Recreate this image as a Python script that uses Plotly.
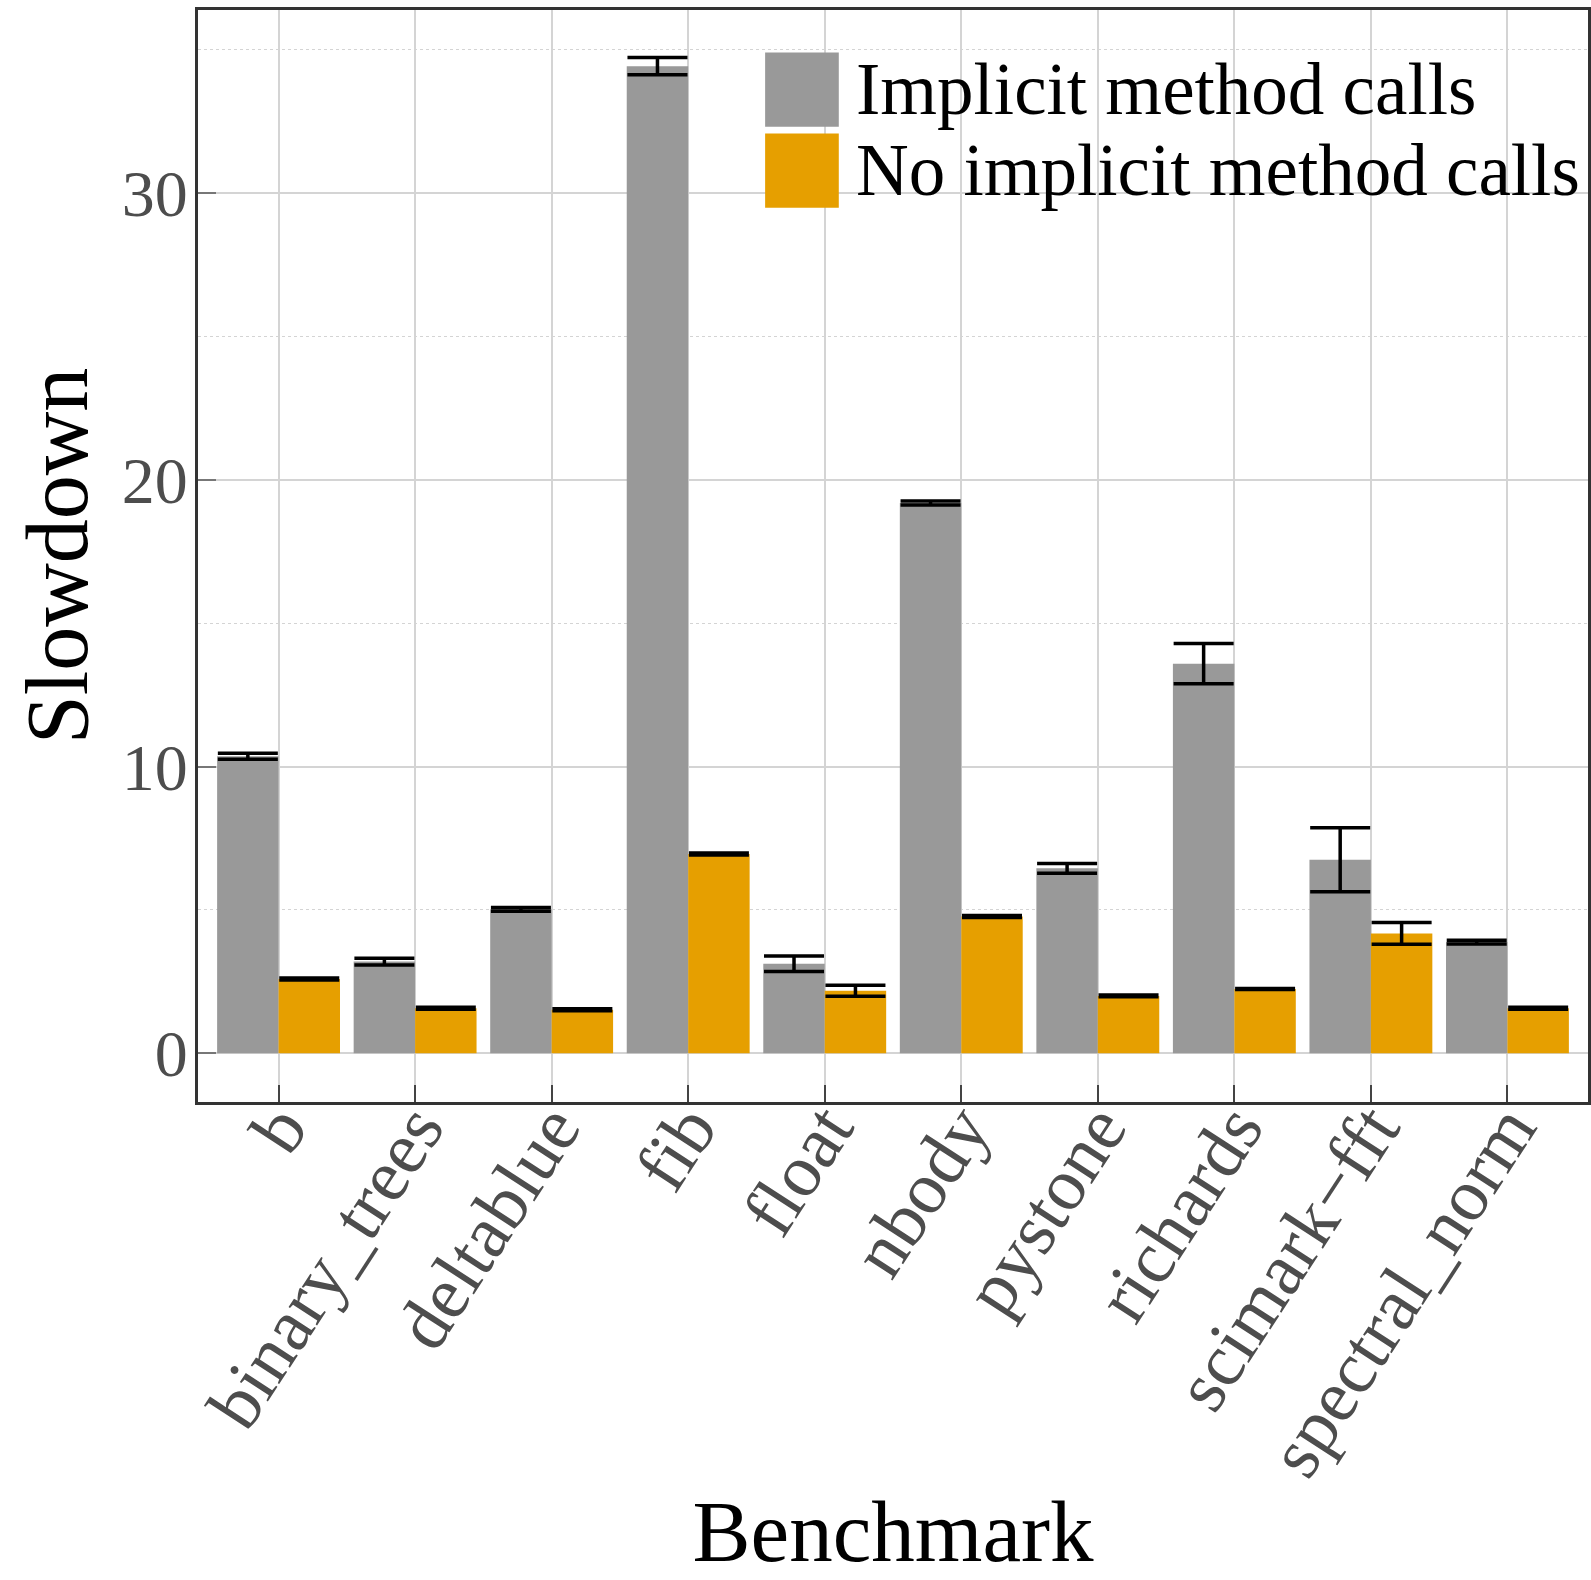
import plotly.graph_objects as go

benchmarks = ["b", "binary_trees", "deltablue", "fib", "float", "nbody",
              "pystone", "richards", "scimark\u2212fft", "spectral_norm"]
series_names = ["Implicit method calls", "No implicit method calls"]
implicit = [10.36, 3.20, 5.02, 34.43, 3.12, 19.19, 6.45, 13.59, 6.75, 3.88]
implicit_err = [0.105, 0.117, 0.065, 0.30, 0.27, 0.07, 0.17, 0.70, 1.12, 0.065]
no_implicit = [2.59, 1.57, 1.52, 6.95, 2.18, 4.77, 2.00, 2.24, 4.18, 1.57]
no_implicit_err = [0.035, 0.035, 0.035, 0.035, 0.19, 0.035, 0.03, 0.02, 0.38, 0.035]
y_ticks = [0, 10, 20, 30]

colors = ["#999999", "#E69F00"]
FONT = "Liberation Serif"

fig = go.Figure()
for name, vals, errs, col in [(series_names[0], implicit, implicit_err, colors[0]),
                              (series_names[1], no_implicit, no_implicit_err, colors[1])]:
    fig.add_trace(go.Bar(
        x=benchmarks, y=vals, name=name, marker=dict(color=col, line=dict(width=0)),
        error_y=dict(type="data", array=errs, visible=True, color="black",
                     thickness=3.5, width=30),
        showlegend=False,
    ))

# manual legend (large swatches)
legend_y = [0.927, 0.853]
for i, (name, col) in enumerate(zip(series_names, colors)):
    fig.add_shape(type="rect", xref="paper", yref="paper",
                  x0=0.408, x1=0.461, y0=legend_y[i] - 0.034, y1=legend_y[i] + 0.034,
                  fillcolor=col, line=dict(width=0), layer="above")
    fig.add_annotation(x=0.472, y=legend_y[i], xref="paper", yref="paper",
                       text=name, showarrow=False, xanchor="left", yanchor="middle",
                       font=dict(family=FONT, size=73, color="black"))

fig.update_layout(
    width=1591, height=1580,
    margin=dict(l=198, r=3, t=10, b=478),
    paper_bgcolor="white", plot_bgcolor="white",
    barmode="group", bargap=0.1, bargroupgap=0.0,
    font=dict(family=FONT),
)
fig.update_xaxes(
    range=[-0.59, 9.59], automargin=False,
    showgrid=True, gridcolor="#d4d4d4", gridwidth=1.5,
    showline=True, linecolor="#333333", linewidth=3, mirror=True,
    ticks="inside", ticklen=17, tickcolor="#444444", tickwidth=1.5,
    tickangle=-57, ticklabelstandoff=-50,
    tickfont=dict(family=FONT, size=74, color="#4d4d4d"),
    title=dict(text="Benchmark", font=dict(family=FONT, size=87, color="black"), standoff=90),
)
fig.update_yaxes(
    range=[-1.70, 36.39], automargin=False,
    tickvals=y_ticks, ticktext=[str(v) for v in y_ticks],
    showgrid=True, gridcolor="#d4d4d4", gridwidth=1.5,
    zeroline=False,
    minor=dict(dtick=5, tick0=0, showgrid=True, gridcolor="#d4d4d4", griddash="dot", gridwidth=1),
    showline=True, linecolor="#333333", linewidth=3, mirror=True,
    ticks="inside", ticklen=18, tickcolor="#777777", tickwidth=1.5,
    ticklabelstandoff=-6,
    tickfont=dict(family=FONT, size=66, color="#4d4d4d"),
    title=dict(text="Slowdown", font=dict(family=FONT, size=88, color="black"), standoff=5),
)

fig.write_html("out.html")
